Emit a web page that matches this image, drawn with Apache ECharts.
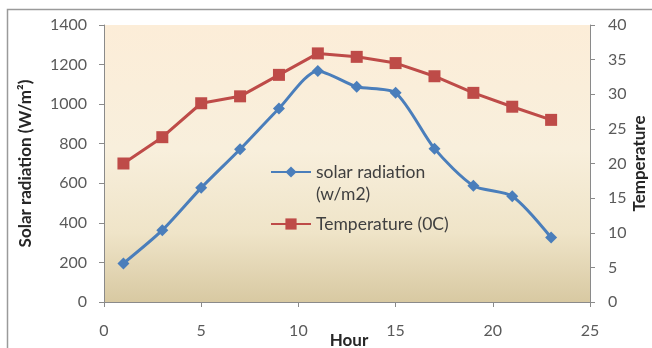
<!DOCTYPE html>
<html><head><meta charset="utf-8">
<script src="https://cdn.jsdelivr.net/npm/echarts@6/dist/echarts.min.js"></script>
<style>html,body{margin:0;padding:0;background:#fff}#c{width:652px;height:348px}</style>
</head><body><div id="c"></div>
<script>
var hours = [1, 3, 5, 7, 9, 11, 13, 15, 17, 19, 21, 23];
var solarRadiation = [195, 363, 577, 772, 978, 1168, 1088, 1057, 775, 588, 535, 326];
var temperature = [20.0, 23.8, 28.7, 29.7, 32.8, 35.9, 35.4, 34.5, 32.6, 30.2, 28.2, 26.3];
var xTicks = [0, 5, 10, 15, 20, 25];
var solarTicks = [0, 200, 400, 600, 800, 1000, 1200, 1400];
var tempTicks = [0, 5, 10, 15, 20, 25, 30, 35, 40];

var FONT = 'Lato';
var chart = echarts.init(document.getElementById('c'));
function pairs(xs, ys){ return xs.map(function(x,i){return [x, ys[i]];}); }
function plain(v){ return String(v); }
var axisLine = {show:true, lineStyle:{color:'#8a8a8a', width:1}};
var axisTick = {show:true, inside:false, length:5, lineStyle:{color:'#8a8a8a'}};
var lbl = {color:'#5a5a5a', fontSize:16, fontFamily:FONT, formatter:plain};
var nameStyle = {color:'#262626', fontSize:17, fontWeight:'bold', fontFamily:FONT};
chart.setOption({
  animation:false,
  backgroundColor:'#ffffff',
  graphic:[{type:'rect', shape:{x:7.5, y:9.5, width:700, height:400}, style:{fill:'none', stroke:'#9a9a9a', lineWidth:1.5}, z:-10}],
  grid:{left:104, right:62, top:25, bottom:46, show:true, borderWidth:0, outerBoundsMode:'none', containLabel:false,
    backgroundColor:{type:'linear', x:0, y:0, x2:0, y2:1, colorStops:[
      {offset:0, color:'#fcedd8'},{offset:0.45, color:'#f8efdc'},{offset:0.75, color:'#efe4c8'},{offset:1, color:'#d8c9a2'}]}},
  xAxis:{type:'value', min:xTicks[0], max:xTicks[xTicks.length-1], interval:5,
    name:'Hour', nameLocation:'middle', nameGap:30, nameMoveOverlap:false,
    nameTextStyle:Object.assign({padding:[0,0,0,4]}, nameStyle),
    axisLine:axisLine, axisTick:axisTick, splitLine:{show:false},
    axisLabel:Object.assign({margin:21}, lbl)},
  yAxis:[
    {type:'value', min:solarTicks[0], max:solarTicks[solarTicks.length-1], interval:200, position:'left',
     name:'Solar radiation (W/m²)', nameLocation:'middle', nameGap:70, nameRotate:90, nameMoveOverlap:false, nameTextStyle:nameStyle,
     axisLine:axisLine, axisTick:axisTick, splitLine:{show:false}, axisLabel:Object.assign({margin:17}, lbl)},
    {type:'value', min:tempTicks[0], max:tempTicks[tempTicks.length-1], interval:5, position:'right',
     name:'Temperature', nameLocation:'middle', nameGap:41, nameRotate:90, nameMoveOverlap:false, nameTextStyle:nameStyle,
     axisLine:axisLine, axisTick:axisTick, splitLine:{show:false}, axisLabel:Object.assign({margin:18}, lbl)}
  ],
  legend:[
    {data:['solar radiation\n(w/m2)'], orient:'vertical', left:265, top:134, itemWidth:40, itemHeight:14,
     formatter:function(n){ return '\n' + n; },
     textStyle:{color:'#404040', fontSize:17.5, fontFamily:FONT, lineHeight:22}},
    {data:['Temperature (0C)'], orient:'vertical', left:265, top:208, itemWidth:40, itemHeight:14,
     textStyle:{color:'#404040', fontSize:17.5, fontFamily:FONT, lineHeight:22}}
  ],
  series:[
    {name:'solar radiation\n(w/m2)', type:'line', yAxisIndex:0, data:pairs(hours, solarRadiation),
     smooth:0.25, symbol:'diamond', symbolSize:12,
     lineStyle:{color:'#4a7ebb', width:3}, itemStyle:{color:'#4a7ebb'}},
    {name:'Temperature (0C)', type:'line', yAxisIndex:1, data:pairs(hours, temperature),
     symbol:'rect', symbolSize:12,
     lineStyle:{color:'#be4b48', width:3}, itemStyle:{color:'#be4b48'}}
  ]
});
</script></body></html>
